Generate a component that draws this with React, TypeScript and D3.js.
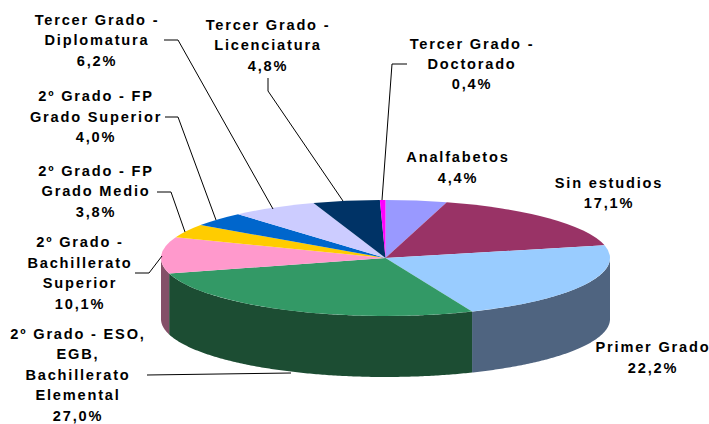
import React from "react";
import * as d3 from "d3";

const width = 709;
const height = 424;

const categories = [
  "Analfabetos",
  "Sin estudios",
  "Primer Grado",
  "ESO",
  "Bachillerato Superior",
  "FP Grado Medio",
  "FP Grado Superior",
  "Diplomatura",
  "Licenciatura",
  "Doctorado",
];
const values = [4.4, 17.1, 22.2, 27.0, 10.1, 3.8, 4.0, 6.2, 4.8, 0.4];
const topColors = ["#9999ff", "#993366", "#99ccff", "#339966", "#ff99cc", "#ffcc00", "#0066cc", "#ccccff", "#003366", "#ff00ff"];
const sideColors = ["#5c5c99", "#5c1f3d", "#4f6480", "#1c4d33", "#845068", "#997a00", "#003d7a", "#7a7a99", "#001f3d", "#990099"];

// label text, centre x, baseline of each line
const labelLines = [
  { lines: ["Analfabetos", "4,4%"], x: 458, ys: [162, 183] },
  { lines: ["Sin estudios", "17,1%"], x: 609, ys: [188, 208] },
  { lines: ["Primer Grado", "22,2%"], x: 653, ys: [352, 373] },
  { lines: ["2º Grado - ESO,", "EGB,", "Bachillerato", "Elemental", "27,0%"], x: 78, ys: [339, 359, 380, 400, 421] },
  { lines: ["2º Grado -", "Bachillerato", "Superior", "10,1%"], x: 80, ys: [247, 268, 288, 309] },
  { lines: ["2º Grado - FP", "Grado Medio", "3,8%"], x: 96, ys: [176, 196, 217] },
  { lines: ["2º Grado - FP", "Grado Superior", "4,0%"], x: 96, ys: [101, 122, 142] },
  { lines: ["Tercer Grado -", "Diplomatura", "6,2%"], x: 97, ys: [25, 45, 66] },
  { lines: ["Tercer Grado -", "Licenciatura", "4,8%"], x: 268, ys: [30, 50, 71] },
  { lines: ["Tercer Grado -", "Doctorado", "0,4%"], x: 472, ys: [49, 69, 89] },
];

// leader lines from label to slice
const leaders: [number, number][][] = [
  [[147, 375], [291, 373]],
  [[135, 273], [149, 273], [162, 256]],
  [[157, 192], [171, 192], [185, 232]],
  [[165, 117], [178, 117], [216, 220]],
  [[164, 40], [178, 40], [273, 209]],
  [[268, 78], [268, 91], [343, 201]],
  [[407, 64], [392, 64], [382, 200]],
];

const cx = 385.5;
const cy = 258;
const rx = 224.5;
const ry = 58;
const depth = 61;

export default function App() {
  const slices = d3.pie<number>().sort(null)(values);
  const arc = d3.arc<d3.PieArcDatum<number>>().innerRadius(0).outerRadius(rx);
  const line = d3.line();

  // only the front half of the rim can be seen
  const wallPath = (start: number, end: number) => {
    const a0 = Math.max(start, Math.PI / 2);
    const a1 = Math.min(end, (3 * Math.PI) / 2);
    if (a1 <= a0) return null;
    const angles = d3.range(a0, a1, 0.01).concat(a1);
    const rim = angles.map((a): [number, number] => [cx + rx * Math.sin(a), cy - ry * Math.cos(a)]);
    const lower = rim.map(([x, y]): [number, number] => [x, y + depth]).reverse();
    return line([...rim, ...lower]) + "Z";
  };

  return (
    <svg
      width={width}
      height={height}
      style={{ position: "absolute", left: 0, top: 0, background: "#fff" }}
    >
      <g>
        {slices.map((s, i) => {
          const d = wallPath(s.startAngle, s.endAngle);
          return d ? <path key={categories[i]} d={d} fill={sideColors[i]} /> : null;
        })}
      </g>
      <g transform={`translate(${cx},${cy}) scale(1,${ry / rx})`}>
        {slices.map((s, i) => (
          <path key={categories[i]} d={arc(s) as string} fill={topColors[i]} />
        ))}
      </g>
      <g fill="none" stroke="#000" strokeWidth={1}>
        {leaders.map((pts, i) => (
          <path key={i} d={line(pts) as string} />
        ))}
      </g>
      <g
        fontFamily="'Liberation Sans', Arial, sans-serif"
        fontWeight="bold"
        fontSize={14.6}
        letterSpacing={1.8}
        textAnchor="middle"
        fill="#000"
      >
        {labelLines.map((l) =>
          l.lines.map((t, j) => (
            <text key={l.lines[0] + l.x + j} x={l.x} y={l.ys[j]}>
              {t}
            </text>
          ))
        )}
      </g>
    </svg>
  );
}
